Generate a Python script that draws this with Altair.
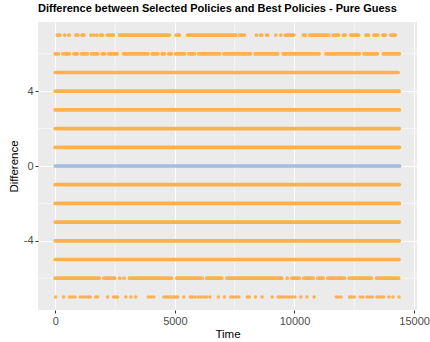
import altair as alt
import pandas as pd

# Difference levels drawn as near-continuous runs of points (first and last point of each run)
dense_levels = [5, 4, 3, 2, 1, -1, -2, -3, -4, -5]
dense_start = [0, 0, 0, 0, 0, 0, 0, 0, 0, 0]
dense_end = [14330, 14370, 14380, 14380, 14380, 14380, 14380, 14380, 14380, 14370]

# zero difference (selected policy == best policy)
zero_start = [0]
zero_end = [14390]

# difference = 6: runs of consecutive points
row6_start = [0, 317, 777, 1095, 1513, 1957, 2233, 2848, 4049, 4467, 4744, 5028, 5580, 5999,
              7045, 8354, 9526, 11312, 12902, 13710]
row6_end = [135, 595, 922, 1340, 1784, 2068, 2595, 3875, 4294, 4570, 4855, 5407, 5825, 6871,
            8160, 9302, 11034, 12708, 13461, 14381]

# difference = 7: short bursts
row7_start = [87, 390, 560, 865, 1116, 1494, 1619, 1745, 1898, 2179, 2681, 5049, 5526, 7714,
              8410, 8580, 8831, 9220, 9428, 9610, 10363, 10643, 11618, 12036, 12346, 12986,
              13321, 13685, 14019]
row7_end = [198, 395, 587, 951, 1202, 1497, 1622, 1748, 1980, 2428, 4771, 5190, 7545, 7909,
            8413, 8633, 8884, 9223, 9431, 9972, 10449, 11423, 11842, 12122, 12679, 13097,
            13486, 13796, 14214]

# difference = -6
rowm6_start = [0, 2036, 2690, 2873, 3099, 5078, 6333, 7170, 9694, 9890, 10392, 10978, 11396,
               12287, 13434]
rowm6_end = [1842, 2482, 2695, 2876, 4855, 6139, 6959, 9470, 9697, 10198, 10783, 11202, 12093,
             13210, 14352]

# difference = -7: isolated points
rowm7_time = [17, 351, 603, 711, 824, 1046, 1159, 1272, 1381, 1464, 1690, 1774, 2192, 2443,
              2527, 2611, 2946, 3167, 3364, 3891, 4004, 4117, 4535, 4619, 4703, 4787, 4870,
              4954, 5038, 5121, 5372, 5648, 5732, 5845, 5983, 6096, 6209, 6318, 6460, 6820,
              7071, 7339, 7448, 7561, 7673, 8033, 8117, 8368, 8648, 9066, 9318, 9401, 9485,
              9569, 9682, 9791, 9904, 10017, 10268, 10519, 10824, 11744, 11828, 11941, 12301,
              12385, 12498, 12749, 12862, 13029, 13138, 13251, 13448, 13531, 13615, 13724,
              13949, 14117, 14368]

x_breaks = [0, 5000, 10000, 15000]
x_minor = [2500, 7500, 12500]
y_breaks = [-4, 0, 4]
y_minor = [-6, -2, 2, 6]

ORANGE = "#FFB14E"
BLUE = "#A3BCE0"

runs = []
for lvl, s, e in zip(dense_levels, dense_start, dense_end):
    runs.append({"Difference": lvl, "t0": s, "t1": e, "grp": "diff"})
for s, e in zip(zero_start, zero_end):
    runs.append({"Difference": 0, "t0": s, "t1": e, "grp": "zero"})
for lvl, starts, ends in [(6, row6_start, row6_end), (7, row7_start, row7_end),
                          (-6, rowm6_start, rowm6_end)]:
    for s, e in zip(starts, ends):
        runs.append({"Difference": lvl, "t0": s, "t1": e, "grp": "diff"})
runs = pd.DataFrame(runs)

singles = pd.DataFrame({"Time": rowm7_time, "Difference": [-7] * len(rowm7_time)})

xscale = alt.Scale(domain=[-720, 15120], nice=False, zero=False)
yscale = alt.Scale(domain=[-7.7, 7.7], nice=False, zero=False)
color = alt.Color("grp:N", scale=alt.Scale(domain=["diff", "zero"], range=[ORANGE, BLUE]),
                  legend=None)

xgrid_minor = alt.Chart(pd.DataFrame({"v": x_minor})).mark_rule(
    color="white", strokeWidth=0.55
).encode(x=alt.X("v:Q", scale=xscale))
ygrid_minor = alt.Chart(pd.DataFrame({"v": y_minor})).mark_rule(
    color="white", strokeWidth=0.55
).encode(y=alt.Y("v:Q", scale=yscale))

lines = alt.Chart(runs).mark_rule(strokeWidth=3.7, strokeCap="round").encode(
    x=alt.X("t0:Q", scale=xscale,
            axis=alt.Axis(values=x_breaks, title="Time", labelExpr="'' + datum.value")),
    x2="t1:Q",
    y=alt.Y("Difference:Q", scale=yscale,
            axis=alt.Axis(values=y_breaks, title="Difference", labelExpr="'' + datum.value")),
    color=color,
)

dots = alt.Chart(singles).mark_circle(size=12, opacity=1, color=ORANGE).encode(
    x=alt.X("Time:Q", scale=xscale),
    y=alt.Y("Difference:Q", scale=yscale),
)

chart = (
    alt.layer(xgrid_minor, ygrid_minor, lines, dots)
    .properties(
        width=379,
        height=288,
        autosize="none",
        padding={"left": 38, "top": 22, "right": 13, "bottom": 32},
        title="Difference between Selected Policies and Best Policies - Pure Guess",
    )
    .configure_view(fill="#EBEBEB", strokeWidth=0)
    .configure_axis(
        domain=False,
        grid=True,
        gridColor="white",
        gridWidth=1.1,
        tickColor="#333333",
        tickSize=3,
        tickWidth=1,
        labelColor="#4D4D4D",
        labelFont="Liberation Sans",
        labelFontSize=11,
        labelPadding=2,
        titleFont="Liberation Sans",
        titleFontSize=11.5,
        titleFontWeight="normal",
        titleColor="black",
    )
    .configure_axisX(titlePadding=2)
    .configure_axisY(titlePadding=4)
    .configure_title(
        font="Liberation Sans",
        fontSize=11,
        fontWeight="bold",
        anchor="start",
        frame="group",
        offset=8,
        color="black",
    )
)

chart.save("out.html", embed_options={"renderer": "svg", "actions": False})
